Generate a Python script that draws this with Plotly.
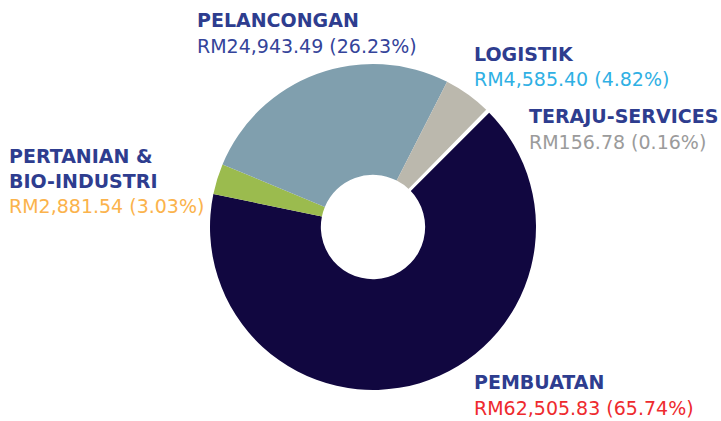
import plotly.graph_objects as go

# Data
sectors = ["PEMBUATAN", "PERTANIAN &<br>BIO-INDUSTRI", "PELANCONGAN", "LOGISTIK", "TERAJU-SERVICES"]
values = [62505.83, 2881.54, 24943.49, 4585.40, 156.78]
percents = [65.74, 3.03, 26.23, 4.82, 0.16]
slice_colors = ["#110740", "#9bbb4e", "#809fae", "#bbb8ad", "#ffffff"]
value_colors = ["#ee2a2e", "#fbb34c", "#34449a", "#2fb0e4", "#9b9b9b"]

W, H = 721, 421
title_color = "#2e3d8f"
FONT = "DejaVu Sans"

fig = go.Figure()
fig.add_trace(go.Pie(
    labels=[s.replace("<br>", " ") for s in sectors],
    values=values,
    sort=False,
    direction="clockwise",
    rotation=45,
    hole=0.32,
    textinfo="none",
    hoverinfo="label+value+percent",
    marker=dict(colors=slice_colors,
                line=dict(color="white", width=[0, 0, 0, 0, 2.5])),
    domain=dict(x=[(373 - 163) / W, (373 + 163) / W],
                y=[1 - 390 / H, 1 - 64 / H]),
    showlegend=False,
))

# label positions (pixel, left x and cap centre of the title's first line)
label_pos = {
    "PEMBUATAN": (472, 382),
    "PERTANIAN &<br>BIO-INDUSTRI": (7, 156),
    "PELANCONGAN": (195, 20),
    "LOGISTIK": (472, 54),
    "TERAJU-SERVICES": (527, 116),
}
line_gap = 24.5

for name, val, pct, vc in zip(sectors, values, percents, value_colors):
    x0, y0 = label_pos[name]
    lines = name.split("<br>")
    for i, ln in enumerate(lines):
        fig.add_annotation(
            x=x0 / W, y=1 - (y0 + i * line_gap) / H, xref="paper", yref="paper",
            xanchor="left", yanchor="middle", showarrow=False,
            text=f"<b>{ln}</b>",
            font=dict(family=FONT, size=19, color=title_color),
        )
    fig.add_annotation(
        x=x0 / W, y=1 - (y0 + len(lines) * line_gap + 1) / H, xref="paper", yref="paper",
        xanchor="left", yanchor="middle", showarrow=False,
        text=f"RM{val:,.2f} ({pct:.2f}%)",
        font=dict(family=FONT, size=19, color=vc),
    )

fig.update_layout(
    width=W, height=H,
    margin=dict(l=0, r=0, t=0, b=0),
    paper_bgcolor="white", plot_bgcolor="white",
    font=dict(family=FONT),
)

fig.write_html(
    "out.html",
    config={"displayModeBar": False},
    post_script="document.body.style.margin='0';document.body.style.overflow='hidden';",
)
